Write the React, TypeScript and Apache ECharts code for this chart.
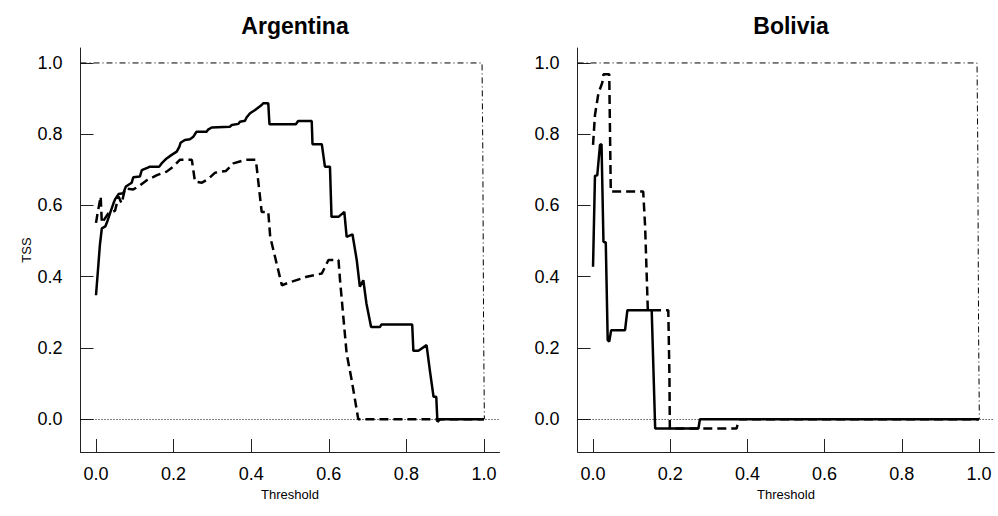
import React, { useEffect, useRef } from "react";
import * as echarts from "echarts";

const panelTitles = ["Argentina", "Bolivia"];
const yTicks = [0, 0.2, 0.4, 0.6, 0.8, 1.0];
const xTicks = [0, 0.2, 0.4, 0.6, 0.8, 1.0];

const argentinaSolid: [number, number][] = [
  [0, 0.348], [0.010, 0.489], [0.015, 0.536], [0.024, 0.541], [0.028, 0.552], [0.036, 0.578],
  [0.045, 0.606], [0.049, 0.617], [0.058, 0.632], [0.070, 0.634], [0.077, 0.653], [0.092, 0.664],
  [0.096, 0.679], [0.113, 0.681], [0.118, 0.699], [0.135, 0.707], [0.139, 0.709], [0.163, 0.709],
  [0.169, 0.718], [0.182, 0.732], [0.195, 0.742], [0.208, 0.751], [0.215, 0.765], [0.218, 0.776],
  [0.229, 0.784], [0.242, 0.786], [0.251, 0.793], [0.259, 0.807], [0.285, 0.807], [0.289, 0.813],
  [0.298, 0.819], [0.345, 0.821], [0.350, 0.826], [0.367, 0.829], [0.371, 0.835], [0.384, 0.838],
  [0.388, 0.847], [0.397, 0.859], [0.410, 0.868], [0.427, 0.882], [0.431, 0.887], [0.444, 0.887],
  [0.447, 0.828], [0.515, 0.828], [0.521, 0.837], [0.556, 0.837], [0.558, 0.772], [0.582, 0.772],
  [0.590, 0.709], [0.603, 0.709], [0.607, 0.568], [0.625, 0.568], [0.640, 0.582], [0.646, 0.512],
  [0.661, 0.519], [0.672, 0.447], [0.680, 0.372], [0.689, 0.390], [0.697, 0.325], [0.709, 0.259],
  [0.732, 0.259], [0.736, 0.266], [0.815, 0.266], [0.818, 0.192], [0.831, 0.192], [0.852, 0.208],
  [0.861, 0.133], [0.870, 0.063], [0.877, 0.063], [0.880, -0.007], [0.887, 0], [1.0, 0],
];

const argentinaDashed: [number, number][] = [
  [0, 0.551], [0.004, 0.578], [0.012, 0.625], [0.015, 0.551], [0.032, 0.578], [0.049, 0.585],
  [0.058, 0.625], [0.066, 0.606], [0.075, 0.648], [0.096, 0.645], [0.109, 0.653], [0.131, 0.671],
  [0.157, 0.685], [0.182, 0.695], [0.199, 0.709], [0.216, 0.728], [0.247, 0.728], [0.255, 0.667],
  [0.273, 0.664], [0.290, 0.675], [0.307, 0.692], [0.335, 0.697], [0.354, 0.718], [0.384, 0.728],
  [0.412, 0.728], [0.427, 0.582], [0.444, 0.582], [0.449, 0.512], [0.479, 0.376], [0.491, 0.381],
  [0.543, 0.400], [0.582, 0.409], [0.599, 0.447], [0.625, 0.447], [0.629, 0.390], [0.646, 0.184],
  [0.659, 0.110], [0.676, 0], [1.0, 0],
];

const boliviaSolid: [number, number][] = [
  [0, 0.428], [0.005, 0.683], [0.011, 0.685], [0.018, 0.770], [0.022, 0.772], [0.027, 0.498],
  [0.033, 0.496], [0.038, 0.222], [0.042, 0.218], [0.047, 0.250], [0.083, 0.250], [0.089, 0.306],
  [0.152, 0.306], [0.161, -0.026], [0.273, -0.026], [0.277, 0], [1.0, 0],
];

const boliviaDashed: [number, number][] = [
  [0, 0.770], [0.005, 0.854], [0.014, 0.915], [0.024, 0.945], [0.027, 0.968], [0.042, 0.968],
  [0.046, 0.639], [0.130, 0.639], [0.135, 0.540], [0.142, 0.306], [0.195, 0.306], [0.198, 0.119],
  [0.199, -0.026], [0.372, -0.026], [0.378, 0], [1.0, 0],
];

const referenceCurve: [number, number][] = [
  [-0.04, 1], [0.995, 1], [0.997, 0.75], [0.999, 0.25], [1.001, 0],
];

const FONT = "'Liberation Sans', Arial, sans-serif";

export default function App() {
  const ref = useRef<HTMLDivElement>(null);
  useEffect(() => {
    if (!ref.current) return;
    const chart = echarts.init(ref.current, null, { renderer: "svg" });
    const grids = [
      { left: 80.5, top: 48, width: 419, height: 404 },
      { left: 577.6, top: 48, width: 416.8, height: 404 },
    ];
    const axisLineStyle = { color: "#222", width: 1 };
    const xAxes = grids.map((_, i) => ({
      type: "value",
      gridIndex: i,
      min: -0.04,
      max: 1.04,
      name: "Threshold",
      nameLocation: "middle",
      nameGap: 36,
      nameTextStyle: { fontFamily: FONT, fontSize: 13, color: "#000" },
      axisLine: { show: true, onZero: false, lineStyle: axisLineStyle },
      axisTick: { show: true, inside: true, length: 13, customValues: xTicks, lineStyle: axisLineStyle },
      axisLabel: {
        show: true, customValues: xTicks, margin: 13, fontFamily: FONT, fontSize: 18, color: "#000",
        formatter: (v: number) => v.toFixed(1),
      },
      splitLine: { show: false },
    }));
    const yAxes = grids.map((_, i) => ({
      type: "value",
      gridIndex: i,
      min: -0.092,
      max: 1.042,
      name: i === 0 ? "TSS" : "",
      nameLocation: "middle",
      nameRotate: 90,
      nameGap: 48,
      nameTextStyle: { fontFamily: FONT, fontSize: 13, color: "#000" },
      axisLine: { show: true, onZero: false, lineStyle: axisLineStyle },
      axisTick: { show: true, inside: true, length: 13, customValues: yTicks, lineStyle: axisLineStyle },
      axisLabel: {
        show: true, customValues: yTicks, margin: 18, fontFamily: FONT, fontSize: 18, color: "#000",
        formatter: (v: number) => v.toFixed(1),
      },
      splitLine: { show: false },
    }));
    const panels = [
      { solid: argentinaSolid, dashed: argentinaDashed },
      { solid: boliviaSolid, dashed: boliviaDashed },
    ];
    const series: any[] = [];
    panels.forEach((p, i) => {
      series.push({
        type: "line", xAxisIndex: i, yAxisIndex: i, data: referenceCurve, showSymbol: false,
        lineStyle: { color: "#000", width: 1, type: [6, 3, 1, 3] },
        markLine: {
          silent: true, symbol: "none", label: { show: false },
          lineStyle: { color: "#000", width: 1, type: [1, 2] },
          data: [{ yAxis: 0 }],
        },
        z: 1,
      });
      series.push({
        type: "line", xAxisIndex: i, yAxisIndex: i, data: p.dashed, showSymbol: false,
        lineStyle: { color: "#000", width: 2.5, type: [9, 5] }, z: 2,
      });
      series.push({
        type: "line", xAxisIndex: i, yAxisIndex: i, data: p.solid, showSymbol: false,
        lineStyle: { color: "#000", width: 2.5 }, z: 3,
      });
    });
    chart.setOption({
      animation: false,
      backgroundColor: "#fff",
      title: panelTitles.map((t, i) => ({
        text: t,
        left: grids[i].left + grids[i].width / 2,
        top: 9,
        textAlign: "center",
        textStyle: { fontFamily: FONT, fontSize: 23, fontWeight: "bold", color: "#000" },
      })),
      grid: grids,
      xAxis: xAxes,
      yAxis: yAxes,
      series,
    });
    return () => chart.dispose();
  }, []);
  return <div ref={ref} style={{ width: 998, height: 516, position: "absolute", left: 0, top: 0 }} />;
}
